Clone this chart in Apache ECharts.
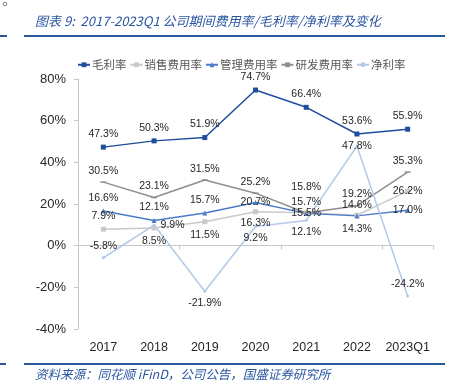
<!DOCTYPE html>
<html>
<head>
<meta charset="utf-8">
<script src="https://cdn.jsdelivr.net/npm/echarts@6/dist/echarts.min.js"></script>
<style>html,body{margin:0;padding:0;background:#fff}#c{width:452px;height:391px}</style>
</head>
<body>
<div id="c"></div>
<script>
var categories = ['2017','2018','2019','2020','2021','2022','2023Q1'];
var grossMargin = [47.3, 50.3, 51.9, 74.7, 66.4, 53.6, 55.9];
var salesExp = [7.9, 8.5, 11.5, 16.3, 15.8, 14.6, 26.2];
var adminExp = [16.6, 12.1, 15.7, 20.7, 15.5, 14.3, 17.0];
var rdExp = [30.5, 23.1, 31.5, 25.2, 15.7, 19.2, 35.3];
var netMargin = [-5.8, 9.9, -21.9, 9.2, 12.1, 47.8, -24.2];
var seriesNames = ['毛利率','销售费用率','管理费用率','研发费用率','净利率'];
var yTicks = [-40, -20, 0, 20, 40, 60, 80];

var salesPos = ['top','bottom','bottom','bottom','top','top','inside'];
var salesDist = [5,5,5,3,18,2,5];
var adminPos = ['top','top','top','inside','inside','bottom','inside'];
var netPos = ['top','right','bottom','bottom','bottom','inside','top'];

var labelStyle = {show:true, fontSize:10.5, color:'#262626', fontFamily:'Liberation Sans, Arial', formatter:function(p){return p.value.toFixed(1)+'%';}};

function mk(vals, pos, dist){
  return vals.map(function(v,i){
    var o = {value:v};
    if(pos){ o.label = {position:pos[i], distance: dist ? dist[i] : 5}; }
    return o;
  });
}

var chart = echarts.init(document.getElementById('c'));
chart.setOption({
  animation:false,
  textStyle:{fontFamily:'Liberation Sans, Arial, Noto Sans CJK SC'},
  grid:{left:78, right:19, top:79, bottom:62},
  legend:{
    data:seriesNames, left:72, top:54, itemWidth:12, itemHeight:6, itemGap:3,
    textStyle:{fontSize:11.5, color:'#595959', fontFamily:'Noto Sans CJK SC', padding:[0,0,0,-3]}
  },
  xAxis:[
    {type:'category', data:categories, axisLine:{show:false, onZero:false}, axisTick:{show:false},
     axisLabel:{fontSize:12.5, color:'#262626', margin:12, interval:0}},
    {type:'category', data:categories, position:'bottom', axisLine:{show:true, onZero:true, lineStyle:{color:'#c8c8c8'}},
     axisTick:{show:true, length:4, lineStyle:{color:'#c8c8c8'}}, axisLabel:{show:false}}
  ],
  yAxis:{type:'value', min:-40, max:80, interval:20,
    axisLine:{show:true, lineStyle:{color:'#c8c8c8'}}, axisTick:{show:true, length:4, lineStyle:{color:'#c8c8c8'}},
    splitLine:{show:false},
    axisLabel:{fontSize:13, color:'#262626', margin:12, formatter:function(v){return v+'%';}}
  },
  series:[
    {name:seriesNames[0], type:'line', data:mk(grossMargin), symbol:'rect', symbolSize:5,
     itemStyle:{color:'#1F4E9F'}, lineStyle:{width:1.5, color:'#1F4E9F'},
     label:Object.assign({position:'top', distance:5}, labelStyle)},
    {name:seriesNames[1], type:'line', data:mk(salesExp, salesPos, salesDist), symbol:'rect', symbolSize:5,
     itemStyle:{color:'#C9C9C9'}, lineStyle:{width:1.5, color:'#C9C9C9'},
     label:Object.assign({}, labelStyle)},
    {name:seriesNames[2], type:'line', data:mk(adminExp, adminPos), symbol:'triangle', symbolSize:5,
     itemStyle:{color:'#4A7CC9'}, lineStyle:{width:1.5, color:'#4A7CC9'},
     label:Object.assign({}, labelStyle)},
    {name:seriesNames[3], type:'line', data:mk(rdExp), symbol:'rect', symbolSize:[6,1.5],
     itemStyle:{color:'#8F8F8F'}, lineStyle:{width:1.5, color:'#8F8F8F'},
     label:Object.assign({position:'top', distance:5}, labelStyle)},
    {name:seriesNames[4], type:'line', data:mk(netMargin, netPos), symbol:'circle', symbolSize:3,
     itemStyle:{color:'#B4C8E8'}, lineStyle:{width:1.5, color:'#B4C8E8'},
     label:Object.assign({}, labelStyle)}
  ],
  graphic:[
    {type:'circle', shape:{cx:5, cy:4, r:1.8}, style:{fill:'none', stroke:'#666', lineWidth:0.8}},
    {type:'text', left:35, top:15, style:{text:'图表 9:  2017-2023Q1 公司期间费用率/毛利率/净利率及变化', font:'italic 13px "Noto Sans CJK SC"', fill:'#2A56A0'}},
    {type:'rect', shape:{x:24, y:35, width:421, height:2}, style:{fill:'#2A56A0'}},
    {type:'rect', shape:{x:0, y:35, width:7, height:2}, style:{fill:'#2A56A0'}},
    {type:'rect', shape:{x:24, y:363, width:421, height:2}, style:{fill:'#2A56A0'}},
    {type:'rect', shape:{x:0, y:363, width:6, height:2}, style:{fill:'#2A56A0'}},
    {type:'text', left:35, top:368, style:{text:'资料来源：同花顺 iFinD，公司公告，国盛证券研究所', font:'italic 12.5px "Noto Sans CJK SC"', fill:'#2A56A0'}}
  ]
});
</script>
</body>
</html>
